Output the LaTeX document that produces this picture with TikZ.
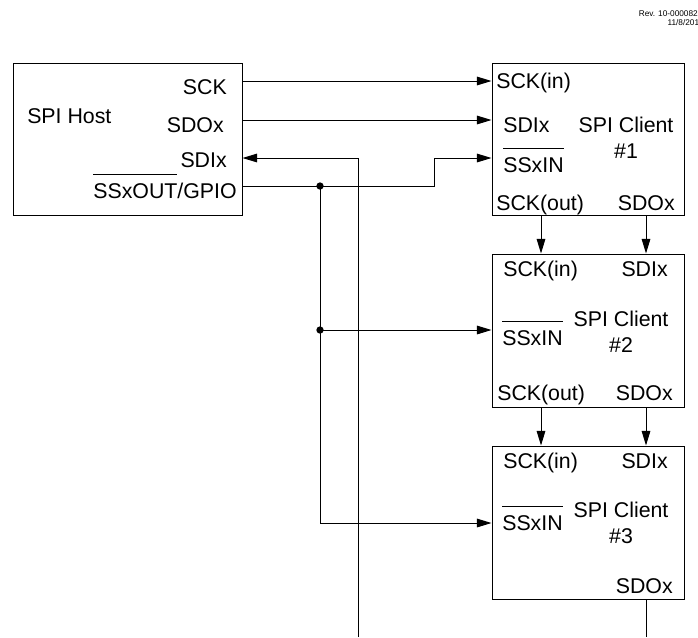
\documentclass[tikz,border=0pt]{standalone}
\usepackage{fontspec}
\setmainfont{Liberation Sans}
\usepackage{tikz}
\usetikzlibrary{arrows.meta,positioning}
% active-low signal name
\newsavebox{\sigbx}
\newcommand{\sigbar}[1]{\sbox{\sigbx}{#1}\rlap{\raisebox{\dimexpr\ht\sigbx+6pt\relax}{\rule{\wd\sigbx}{0.75pt}}}\usebox{\sigbx}}

\begin{document}
\begin{tikzpicture}[
  x=0.75pt, y=-0.75pt,
  node distance=28.5pt,
  box/.style={draw, line width=0.75pt, minimum width=171.75pt, minimum height=114pt, inner sep=0pt},
  client/.style={box, minimum width=144pt, minimum height=114.75pt},
  lbl/.style={inner sep=0pt, font=\fontsize{16}{19}\selectfont},
  title/.style={lbl, align=center},
  wire/.style={line width=0.75pt},
  arrow/.style={wire, -{Triangle[length=11pt, width=6.5pt]}},
  junc/.style={circle, fill, inner sep=0pt, minimum size=5.5pt}
]
\useasboundingbox (0,0) rectangle (698,637);

\node[anchor=base east, align=right, inner sep=0pt, font=\fontsize{6.2}{6.75}\selectfont] (rev) at (704,25.5) {Rev. 10-000082C\\11/8/2018};

% host
\node[box] (host) at (127.5,139) {};
\node[lbl, anchor=base west] (htitle) at (27,123) {SPI Host};
\node[lbl, anchor=base east] (hsck) at (227,94) {SCK};
\node[lbl, anchor=base east] (hsdo) at (224,132) {SDOx};
\node[lbl, anchor=base east] (hsdi) at (227,167) {SDIx};
\node[lbl, anchor=base east] (hss) at (237,198) {\sigbar{SSxOUT}/GPIO};

% clients
\node[client, minimum height=114pt] (c1) at (588,139) {};
\node[client, below=of c1] (c2) {};
\node[client, below=of c2] (c3) {};

\node[lbl, anchor=base west] (c1sck) at (496,88) {SCK(in)};
\node[lbl, anchor=base west] (c1sdi) at (503,132) {SDIx};
\node[lbl, anchor=base west] (c1ss) at (503,172) {\sigbar{SSxIN}};
\node[title, anchor=base] (c1title) at (626,158) {SPI Client\\\#1};
\node[lbl, anchor=base west] (c1scko) at (496,210) {SCK(out)};
\node[lbl, anchor=base east] (c1sdo) at (675,210) {SDOx};

\node[lbl, anchor=base west] (c2sck) at (503,276) {SCK(in)};
\node[lbl, anchor=base east] (c2sdi) at (668,276) {SDIx};
\node[lbl, anchor=base west] (c2ss) at (502,345) {\sigbar{SSxIN}};
\node[title, anchor=base] (c2title) at (621,352) {SPI Client\\\#2};
\node[lbl, anchor=base west] (c2scko) at (497,400) {SCK(out)};
\node[lbl, anchor=base east] (c2sdo) at (673,400) {SDOx};

\node[lbl, anchor=base west] (c3sck) at (503,468) {SCK(in)};
\node[lbl, anchor=base east] (c3sdi) at (668,468) {SDIx};
\node[lbl, anchor=base west] (c3ss) at (502,530) {\sigbar{SSxIN}};
\node[title, anchor=base] (c3title) at (621,543) {SPI Client\\\#3};
\node[lbl, anchor=base east] (c3sdo) at (673,593) {SDOx};

% wiring
\node[junc] (j1) at (320,186) {};
\node[junc] (j2) at (320,330) {};
\coordinate (sdiend) at (358,637);
\coordinate (sdoend) at (646,637);

\draw[arrow] (host.east |- 0,81) -- (c1.west |- 0,81);
\draw[arrow] (host.east |- 0,120) -- (c1.west |- 0,120);
\draw[arrow] (sdiend) |- (host.east |- 0,158);
\draw[arrow] (host.east |- j1) -- (434,186) |- (c1.west |- 0,158);
\draw[wire] (j1.center) -- (j2.center);
\draw[arrow] (j2.center) -- (c2.west |- j2);
\draw[arrow] (j2.center) |- (c3.west |- 0,523);

\draw[arrow] (c1.south -| 541,0) -- (c2.north -| 541,0);
\draw[arrow] (c1.south -| 646,0) -- (c2.north -| 646,0);
\draw[arrow] (c2.south -| 541,0) -- (c3.north -| 541,0);
\draw[arrow] (c2.south -| 646,0) -- (c3.north -| 646,0);
\draw[wire] (c3.south -| sdoend) -- (sdoend);
\end{tikzpicture}
\end{document}
